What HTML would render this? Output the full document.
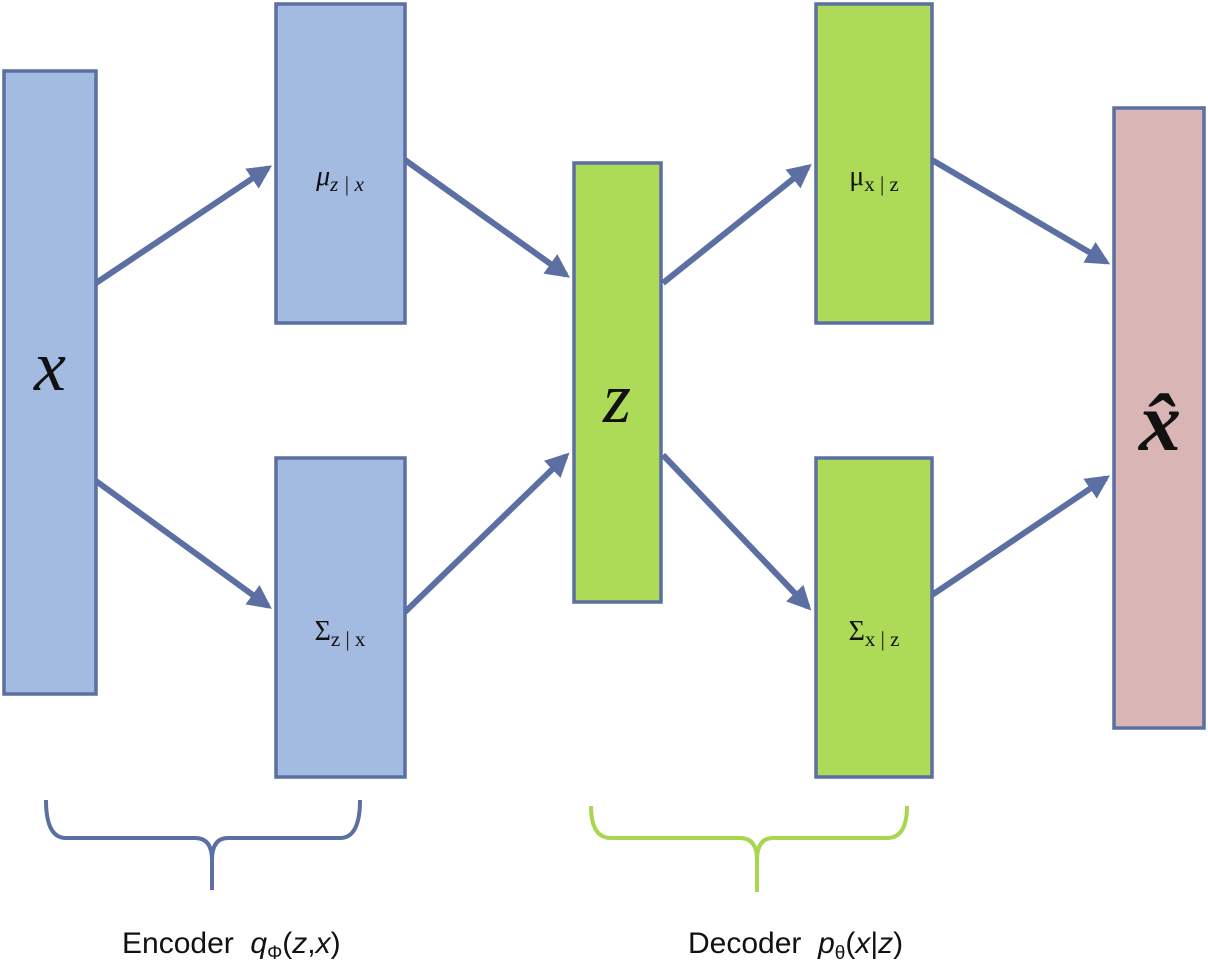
<!DOCTYPE html>
<html><head><meta charset="utf-8"><style>
html,body{margin:0;padding:0;background:#fff;}
svg{display:block;}
text{white-space:pre;}
</style></head><body>
<svg width="1208" height="973" viewBox="0 0 1208 973" xmlns="http://www.w3.org/2000/svg">
<defs>
<marker id="ah" markerWidth="4" markerHeight="4" refX="3.2" refY="2" orient="auto" markerUnits="strokeWidth">
<path d="M0,0 L4,2 L0,4 Z" fill="#5b6fa3"/>
</marker>
</defs>
<g stroke="#5b6fa3" stroke-width="3.5">
<rect x="4" y="71" width="92" height="623" fill="#a3bae1"/>
<rect x="276" y="4" width="129" height="319" fill="#a3bae1"/>
<rect x="276" y="458" width="129" height="319" fill="#a3bae1"/>
<rect x="574" y="163" width="87" height="439" fill="#addb57"/>
<rect x="816" y="4" width="116" height="319" fill="#addb57"/>
<rect x="816" y="458" width="116" height="319" fill="#addb57"/>
<rect x="1114" y="108" width="90" height="620" fill="#d9b6b5"/>
</g>
<g stroke="#5b6fa3" stroke-width="6" marker-end="url(#ah)">
<line x1="96" y1="283" x2="268" y2="168"/>
<line x1="96" y1="481" x2="268" y2="606"/>
<line x1="405" y1="160" x2="566" y2="275"/>
<line x1="405" y1="612" x2="566" y2="456"/>
<line x1="663" y1="283" x2="808" y2="167"/>
<line x1="663" y1="455" x2="808" y2="607"/>
<line x1="932" y1="160" x2="1106" y2="262"/>
<line x1="932" y1="595" x2="1106" y2="478"/>
</g>
<path d="M46,800 Q46,838 66,838 L195,838 Q212,838 212,860 L212,890 M212,860 Q212,838 228,838 L340,838 Q360,838 360,800" fill="none" stroke="#5b6fa3" stroke-width="4"/>
<path d="M591,806 Q591,838 611,838 L740,838 Q757,838 757,860 L757,892 M757,860 Q757,838 773,838 L887,838 Q907,838 907,806" fill="none" stroke="#a8d651" stroke-width="4"/>
<g font-family="Liberation Serif, serif" fill="#111">
<text x="50" y="390" font-size="72" font-style="italic" text-anchor="middle">x</text>
<text x="617" y="422" font-size="72" font-style="italic" text-anchor="middle">z</text>
<text x="1160" y="450" font-size="84" font-style="italic" font-weight="bold" text-anchor="middle">x̂</text>
<text x="340" y="185" font-size="28" text-anchor="middle"><tspan font-style="italic">μ</tspan><tspan font-size="21" dy="6" font-style="italic">z | x</tspan></text>
<text x="340" y="640" font-size="28" text-anchor="middle">Σ<tspan font-size="21" dy="6">z | x</tspan></text>
<text x="874" y="185" font-size="28" text-anchor="middle">μ<tspan font-size="21" dy="6">x | z</tspan></text>
<text x="874" y="640" font-size="28" text-anchor="middle">Σ<tspan font-size="21" dy="6">x | z</tspan></text>
</g>
<g font-family="Liberation Sans, sans-serif" fill="#111" font-size="30">
<text x="122" y="953">Encoder  <tspan font-style="italic">q</tspan><tspan font-size="19" dy="6">Φ</tspan><tspan dy="-6">(</tspan><tspan font-style="italic">z</tspan>,<tspan font-style="italic">x</tspan>)</text>
<text x="688" y="953">Decoder  <tspan font-style="italic">p</tspan><tspan font-size="19" dy="6">θ</tspan><tspan dy="-6">(</tspan><tspan font-style="italic">x</tspan>|<tspan font-style="italic">z</tspan>)</text>
</g>
</svg>
</body></html>
